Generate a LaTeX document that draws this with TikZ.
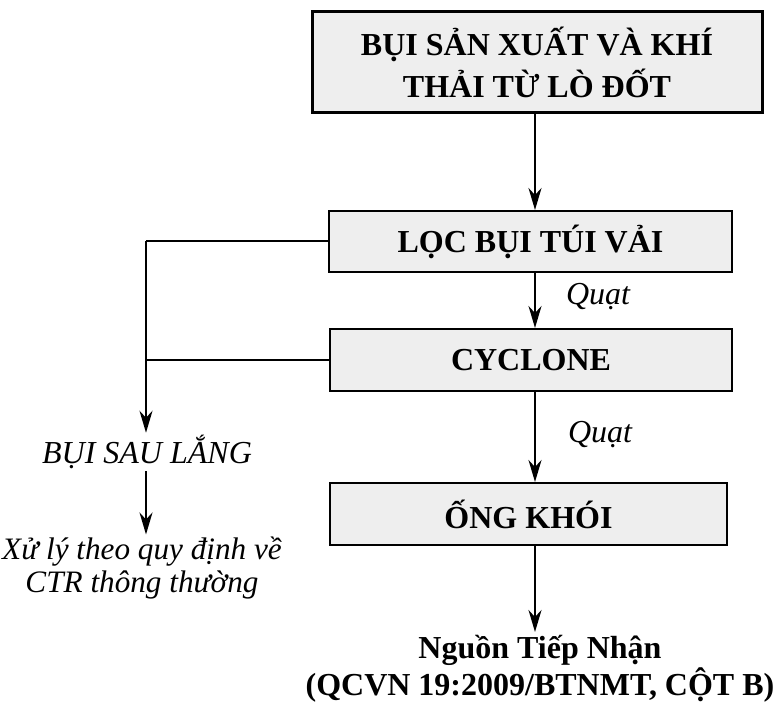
\documentclass[tikz,border=0pt]{standalone}
\usepackage{fontspec}
\setmainfont{Liberation Serif}
\usepackage{tikz}
\usetikzlibrary{
  arrows.meta,  % Stealth tips on the flow arrows
  calc          % Coordinate math
}
\definecolor{boxgray}{RGB}{238,238,238}

\begin{document}
\begin{tikzpicture}[x=0.5pt,y=-0.5pt,
    procbox/.style={draw,fill=boxgray,line width=1pt,align=center,
      font=\fontsize{16}{21}\selectfont\bfseries,inner sep=0pt},
    flow/.style={-{Stealth[length=11pt,width=6.5pt,inset=3.5pt]},line width=1pt},
    note/.style={font=\fontsize{16}{16.5}\selectfont\itshape,align=center,inner sep=1pt}
  ]
            \useasboundingbox (0,0) rectangle (781,721);
            \node[procbox,minimum width=225pt,minimum height=50.5pt,line width=1.5pt] (src) at (537,62.5) {BỤI SẢN XUẤT VÀ KHÍ\\THẢI TỪ LÒ ĐỐT};
            \node[procbox,minimum width=201.5pt,minimum height=30.5pt] (bag) at (530.5,241.5) {LỌC BỤI TÚI VẢI};
            \node[procbox,minimum width=201pt,minimum height=31pt] (cyc) at (531,360) {CYCLONE};
            \node[procbox,minimum width=198.5pt,minimum height=31pt] (stack) at (528.5,514) {ỐNG KHÓI};
            \coordinate (col) at (535,0);
            \coordinate (out) at (535,632);
            \node[note] (fan1) at (598,297) {Quạt};
            \node[note] (fan2) at (600,435) {Quạt};
            \node[note] (dust) at (147,452) {BỤI SAU LẮNG};
            \node[note,font=\fontsize{15.6}{16.5}\selectfont\itshape] (treat) at (142,568) {Xử lý theo quy định về\\CTR thông thường};
            \node[align=center,font=\fontsize{16}{17}\selectfont\bfseries,inner sep=1pt] (recv) at (540,669) {Nguồn Tiếp Nhận\\(QCVN 19:2009/BTNMT, CỘT B)};
            \coordinate (bend) at (146,241.5);
            \draw[flow] (src.south -| col) -- (bag.north -| col);
            \draw[flow] (bag.south -| col) -- (cyc.north -| col);
            \draw[flow] (cyc.south -| col) -- (stack.north -| col);
            \draw[flow] (stack.south -| col) -- (out);
            \draw[line width=1pt] (bag.west) -- (bend);
            \draw[flow] (bend) -- (bend |- dust.north);
            \draw[line width=1pt] (cyc.west) -- (cyc.west -| bend);
            \draw[flow] (dust.south -| bend) -- (treat.north -| bend);
\end{tikzpicture}
\end{document}
